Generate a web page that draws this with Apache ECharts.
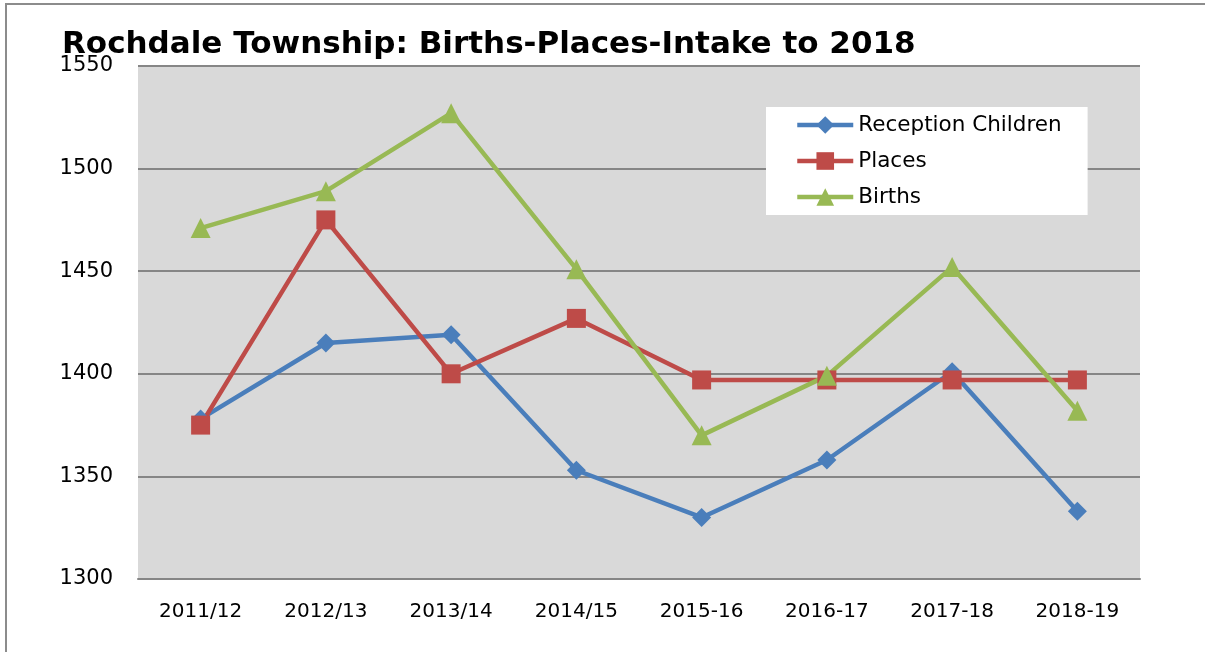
<!DOCTYPE html>
<html>
<head>
<meta charset="utf-8">
<script src="https://cdn.jsdelivr.net/npm/echarts@6/dist/echarts.min.js"></script>
<style>html,body{margin:0;padding:0;background:#fff;}#c{width:1205px;height:652px;}</style>
</head>
<body>
<div id="c"></div>
<script>
const categories = ['2011/12','2012/13','2013/14','2014/15','2015-16','2016-17','2017-18','2018-19'];
const reception = [1378, 1415, 1419, 1353, 1330, 1358, 1401, 1333];
const places = [1375, 1475, 1400, 1427, 1397, 1397, 1397, 1397];
const births = [1471, 1489, 1527, 1451, 1370, 1399, 1452, 1382];
const yTicks = { min: 1300, max: 1550, interval: 50 };

const font = 'DejaVu Sans';
const chart = echarts.init(document.getElementById('c'), null, {renderer: 'canvas'});
function series(name, data, color, symbol, size) {
  return {
    name, type: 'line', data, symbol, symbolSize: size,
    lineStyle: {color, width: 4.5},
    itemStyle: {color},
    emphasis: {disabled: true},
    z: 3
  };
}
chart.setOption({
  animation: false,
  backgroundColor: '#fff',
  textStyle: {fontFamily: font},
  title: {
    text: 'Rochdale Township: Births-Places-Intake to 2018',
    left: 57, top: 24,
    textStyle: {fontFamily: font, fontWeight: 'bold', fontSize: 31, color: '#000'}
  },
  graphic: [{
    type: 'rect', shape: {x: 6, y: 4, width: 1220, height: 670},
    style: {fill: 'none', stroke: '#8c8c8c', lineWidth: 2}, z: -10
  }],
  grid: {left: 138, top: 66, width: 1002, height: 513, backgroundColor: '#d9d9d9', show: true, borderWidth: 0},
  legend: {
    left: 766, top: 107, orient: 'vertical',
    backgroundColor: '#fff', padding: [7, 26, 7, 29], itemGap: 14,
    itemWidth: 56, itemHeight: 22,
    lineStyle: {width: 4.5},
    textStyle: {fontFamily: font, fontSize: 21.5, color: '#000'},
    data: ['Reception Children', 'Places', 'Births']
  },
  xAxis: {
    type: 'category', data: categories, boundaryGap: true,
    axisLine: {show: true, lineStyle: {color: '#868686', width: 2}},
    axisTick: {show: false},
    axisLabel: {fontFamily: font, fontSize: 20, color: '#000', margin: 23}
  },
  yAxis: {
    type: 'value', min: yTicks.min, max: yTicks.max, interval: yTicks.interval,
    axisLine: {show: false}, axisTick: {show: false},
    splitLine: {lineStyle: {color: '#868686', width: 2}},
    axisLabel: {fontFamily: font, fontSize: 21, color: '#000', margin: 25, formatter: v => String(v)}
  },
  series: [
    series('Reception Children', reception, '#4a7ebb', 'diamond', 19),
    series('Places', places, '#be4b48', 'rect', 19),
    series('Births', births, '#98b954', 'triangle', 20)
  ]
});
</script>
</body>
</html>
